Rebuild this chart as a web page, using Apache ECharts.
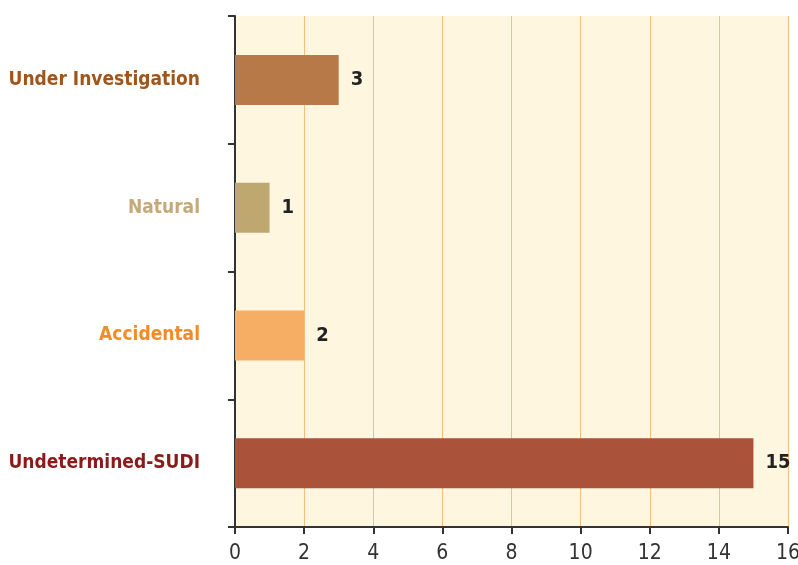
<!DOCTYPE html>
<html>
<head>
<meta charset="utf-8">
<script src="https://cdn.jsdelivr.net/npm/echarts@6/dist/echarts.min.js"></script>
<style>
  html, body { margin: 0; padding: 0; background: #ffffff; }
  #chart { width: 798px; height: 565px; }
</style>
</head>
<body>
<div id="chart"></div>
<script>
// Manner of death categories, top to bottom
const categories = ['Under Investigation', 'Natural', 'Accidental', 'Undetermined-SUDI'];
const counts = [3, 1, 2, 15];
const barColors = ['#b77947', '#bfa770', '#f5ae64', '#aa523a'];
const labelColors = ['#a0561a', '#c4aa78', '#f28c28', '#8b1a1a'];
const xTicks = [0, 2, 4, 6, 8, 10, 12, 14, 16];

const FONT = '"Liberation Sans Narrow", "DejaVu Sans Condensed", sans-serif';

const chart = echarts.init(document.getElementById('chart'), null, { renderer: 'canvas' });

chart.setOption({
  animation: false,
  grid: {
    left: 235, right: 10, top: 16, bottom: 38,
    outerBoundsMode: 'none',
    containLabel: false,
    show: true, backgroundColor: '#fef6df', borderWidth: 0
  },
  xAxis: {
    type: 'value',
    min: xTicks[0],
    max: xTicks[xTicks.length - 1],
    interval: xTicks[1] - xTicks[0],
    axisLine: { show: true, lineStyle: { color: '#333333', width: 2 } },
    axisTick: { show: true, length: 7, lineStyle: { color: '#333333', width: 2 } },
    axisLabel: { color: '#333333', fontFamily: FONT, fontSize: 21, margin: 16 },
    splitLine: { show: true, lineStyle: { color: '#f7bd7e', width: 1 } }
  },
  yAxis: {
    type: 'category',
    data: categories,
    inverse: true,
    axisLine: { show: true, lineStyle: { color: '#333333', width: 2 } },
    axisTick: { show: true, length: 7, lineStyle: { color: '#333333', width: 2 } },
    axisLabel: {
      margin: 35,
      fontFamily: FONT,
      fontWeight: 'bold',
      fontSize: 19,
      color: (value, index) => labelColors[index]
    },
    splitLine: { show: false }
  },
  series: [{
    type: 'bar',
    data: counts.map((v, i) => ({ value: v, itemStyle: { color: barColors[i] } })),
    barWidth: 50,
    label: {
      show: true,
      position: 'right',
      distance: 12,
      color: '#222222',
      fontFamily: FONT,
      fontWeight: 'bold',
      fontSize: 20
    }
  }]
});
</script>
</body>
</html>
